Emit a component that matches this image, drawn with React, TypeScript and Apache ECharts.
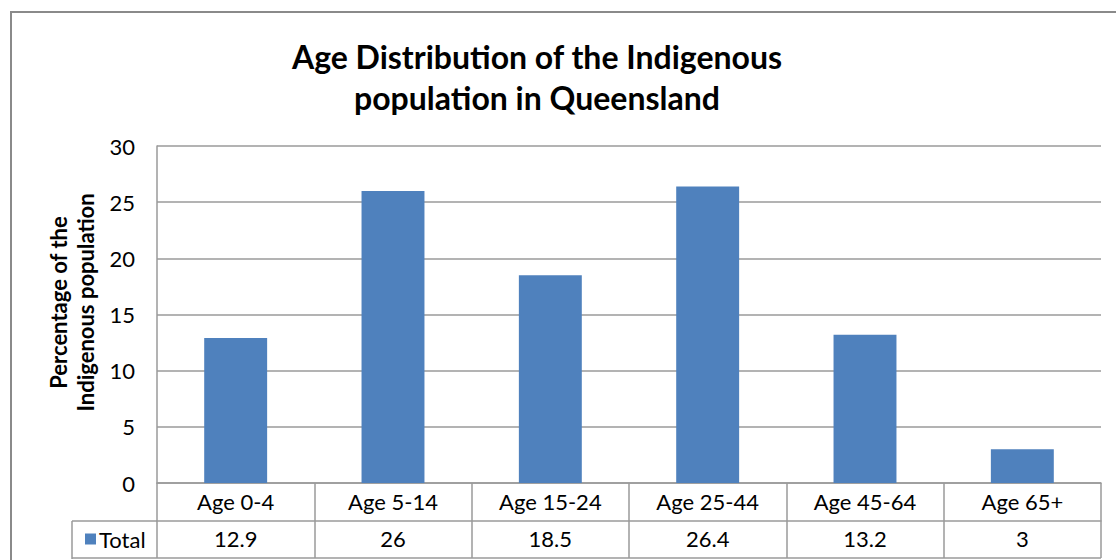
import React, { useEffect, useRef } from "react";
import * as echarts from "echarts";

const categories = ["Age 0-4", "Age 5-14", "Age 15-24", "Age 25-44", "Age 45-64", "Age 65+"];
const totals = [12.9, 26, 18.5, 26.4, 13.2, 3];
const seriesName = "Total";
const yMin = 0;
const yMax = 30;
const yInterval = 5;
const titleText = "Age Distribution of the Indigenous\npopulation in Queensland";
const yAxisName = "Percentage of the\nIndigenous population";

const FONT = "Lato";
const GREY = "#9a9a9a";
const BLUE = "#4F81BD";

export default function App() {
  const ref = useRef<HTMLDivElement>(null);
  useEffect(() => {
    document.body.style.margin = "0";
    const chart = echarts.init(ref.current!, null, { renderer: "svg" });
    chart.setOption({
      animation: false,
      backgroundColor: "#ffffff",
      textStyle: { fontFamily: FONT, color: "#000" },
      title: {
        text: titleText,
        left: 532,
        top: 31,
        textAlign: "center",
        textStyle: { fontFamily: FONT, fontWeight: "bold", fontSize: 32, lineHeight: 41, color: "#000" },
      },
      legend: {
        data: [seriesName],
        left: 80,
        top: 523,
        icon: "rect",
        itemWidth: 11,
        itemHeight: 11,
        itemGap: 6,
        textStyle: { fontFamily: FONT, fontSize: 22, color: "#000", padding: [0, 0, 0, -2] },
        selectedMode: false,
      },
      grid: { left: 157, right: 15, top: 146, bottom: 77, containLabel: false },
      xAxis: [
        {
          type: "category",
          data: categories,
          position: "bottom",
          axisLine: { show: true, lineStyle: { color: GREY, width: 1.5 } },
          axisTick: { show: true, length: 75, interval: 0, lineStyle: { color: GREY, width: 1.5 } },
          axisLabel: { interval: 0, margin: 7, fontSize: 22, color: "#000", fontFamily: FONT },
          splitLine: { show: false },
        },
        {
          type: "category",
          data: categories,
          position: "bottom",
          offset: 38,
          axisLine: { show: true, lineStyle: { color: GREY, width: 1.5 } },
          axisTick: { show: false },
          axisLabel: {
            interval: 0,
            margin: 6,
            fontSize: 22,
            color: "#000",
            fontFamily: FONT,
            formatter: (_v: string, i: number) => String(totals[i]),
          },
          splitLine: { show: false },
        },
      ],
      yAxis: {
        type: "value",
        min: yMin,
        max: yMax,
        interval: yInterval,
        name: yAxisName,
        nameLocation: "middle",
        nameRotate: 90,
        nameGap: 58,
        nameTextStyle: {
          fontFamily: FONT,
          fontWeight: "bold",
          fontSize: 22,
          lineHeight: 27,
          color: "#000",
          padding: [0, 0, 0, 24],
        },
        axisLine: { show: true, lineStyle: { color: GREY, width: 1.5 } },
        axisTick: { show: false },
        axisLabel: { margin: 22, fontSize: 22, color: "#000", fontFamily: FONT },
        splitLine: { show: true, lineStyle: { color: GREY, width: 1.5 } },
      },
      series: [
        {
          name: seriesName,
          type: "bar",
          data: totals,
          barWidth: "40%",
          itemStyle: { color: BLUE },
          xAxisIndex: 0,
        },
      ],
      graphic: [
        {
          type: "rect",
          shape: { x: 11, y: 12, width: 1300, height: 700 },
          style: { fill: "none", stroke: "#8a8a8a", lineWidth: 2 },
          silent: true,
        },
        {
          type: "line",
          shape: { x1: 72, y1: 521, x2: 157, y2: 521 },
          style: { stroke: GREY, lineWidth: 1.5 },
        },
        {
          type: "line",
          shape: { x1: 72, y1: 558, x2: 1101, y2: 558 },
          style: { stroke: GREY, lineWidth: 1.5 },
        },
        {
          type: "line",
          shape: { x1: 72, y1: 521, x2: 72, y2: 559 },
          style: { stroke: GREY, lineWidth: 1.5 },
        },
      ],
    });
    return () => chart.dispose();
  }, []);
  return <div ref={ref} style={{ width: 1116, height: 560 }} />;
}
